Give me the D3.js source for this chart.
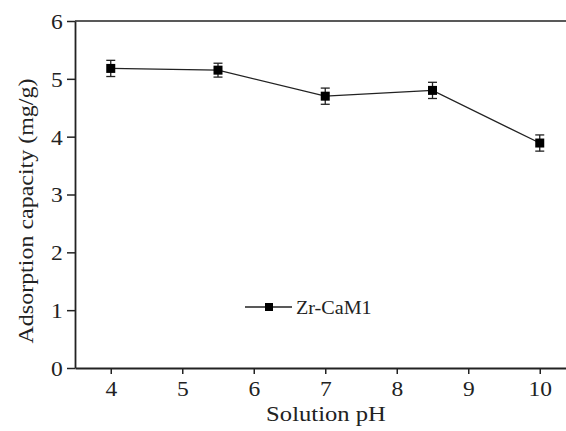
<!DOCTYPE html>
<html><head><meta charset="utf-8">
<script src="https://cdn.jsdelivr.net/npm/d3@7"></script>
<style>
body{margin:0;background:#fff;}
svg text{font-family:"Liberation Serif","Times New Roman",serif;fill:#222;}
.sx{transform-box:fill-box;transform-origin:center;transform:scaleX(1.12);}
</style></head>
<body><svg id="c" width="566" height="431"></svg>
<script>
const phValues = [4, 5.5, 7, 8.5, 10];
const capacity = [5.18, 5.15, 4.70, 4.80, 3.89];
const errors = [0.14, 0.12, 0.14, 0.14, 0.14];
const xTicks = [4, 5, 6, 7, 8, 9, 10];
const yTicks = [0, 1, 2, 3, 4, 5, 6];
const seriesName = "Zr-CaM1";
const xTitle = "Solution pH";
const yTitle = "Adsorption capacity (mg/g)";

(function () {
const svg = d3.select("#c");
const mLeft = 75, mTop = 21, mBottom = 368;
const x = d3.scaleLinear().domain([3.5, 10.5]).range([mLeft, mLeft + 7 * 71.5]);
const y = d3.scaleLinear().domain([0, 6]).range([mBottom, mTop]);
const ink = "#222";

// top border
svg.append("line").attr("x1", mLeft).attr("x2", 566).attr("y1", mTop).attr("y2", mTop)
  .attr("stroke", ink).attr("stroke-width", 1.6);

const gx = svg.append("g").attr("transform", `translate(0,${mBottom})`)
  .call(d3.axisBottom(x).tickValues(xTicks).tickFormat(d3.format("d")).tickSize(6).tickSizeOuter(0).tickPadding(6));
const gy = svg.append("g").attr("transform", `translate(${mLeft},0)`)
  .call(d3.axisLeft(y).tickValues(yTicks).tickFormat(d3.format("d")).tickSize(8).tickSizeOuter(0).tickPadding(5));
[gx, gy].forEach(g => {
  g.attr("font-family", null);
  g.select(".domain").attr("stroke", ink).attr("stroke-width", 1.8);
  g.selectAll(".tick line").attr("stroke", ink).attr("stroke-width", 1.5);
  g.selectAll(".tick text").attr("font-size", 21).attr("fill", ink).attr("class", "sx");
});
gy.selectAll(".tick text").attr("dy", "0.35em");
gx.selectAll(".tick text").attr("dy", "0.78em");

// titles
svg.append("text").attr("class", "sx").attr("x", 326).attr("y", 421)
  .attr("text-anchor", "middle").attr("font-size", 22).text(xTitle);
svg.append("text").attr("transform", "translate(33,211) rotate(-90) scale(1.09,1)")
  .attr("text-anchor", "middle").attr("font-size", 22).text(yTitle);

const data = phValues.map((p, i) => ({p, v: capacity[i], e: errors[i]}));

// line
svg.append("path").datum(data)
  .attr("d", d3.line().x(d => x(d.p)).y(d => y(d.v)))
  .attr("fill", "none").attr("stroke", ink).attr("stroke-width", 1.3);

// error bars
const eb = svg.append("g").attr("stroke", ink).attr("stroke-width", 1.3);
data.forEach(d => {
  const cx = x(d.p);
  eb.append("line").attr("x1", cx).attr("x2", cx).attr("y1", y(d.v + d.e)).attr("y2", y(d.v - d.e));
  [d.v + d.e, d.v - d.e].forEach(vv =>
    eb.append("line").attr("x1", cx - 4.5).attr("x2", cx + 4.5).attr("y1", y(vv)).attr("y2", y(vv)));
});

// markers
svg.selectAll("rect.m").data(data).join("rect").attr("class", "m")
  .attr("x", d => x(d.p) - 4.5).attr("y", d => y(d.v) - 4.5)
  .attr("width", 9).attr("height", 9).attr("fill", "#000");

// legend
const lg = svg.append("g");
lg.append("line").attr("x1", 245).attr("x2", 292).attr("y1", 307).attr("y2", 307)
  .attr("stroke", ink).attr("stroke-width", 1.3);
lg.append("rect").attr("x", 265).attr("y", 303).attr("width", 8).attr("height", 8).attr("fill", "#000");
lg.append("text").attr("class", "sx").attr("x", 300).attr("y", 314).attr("font-size", 18).text(seriesName);
})();
</script></body></html>
